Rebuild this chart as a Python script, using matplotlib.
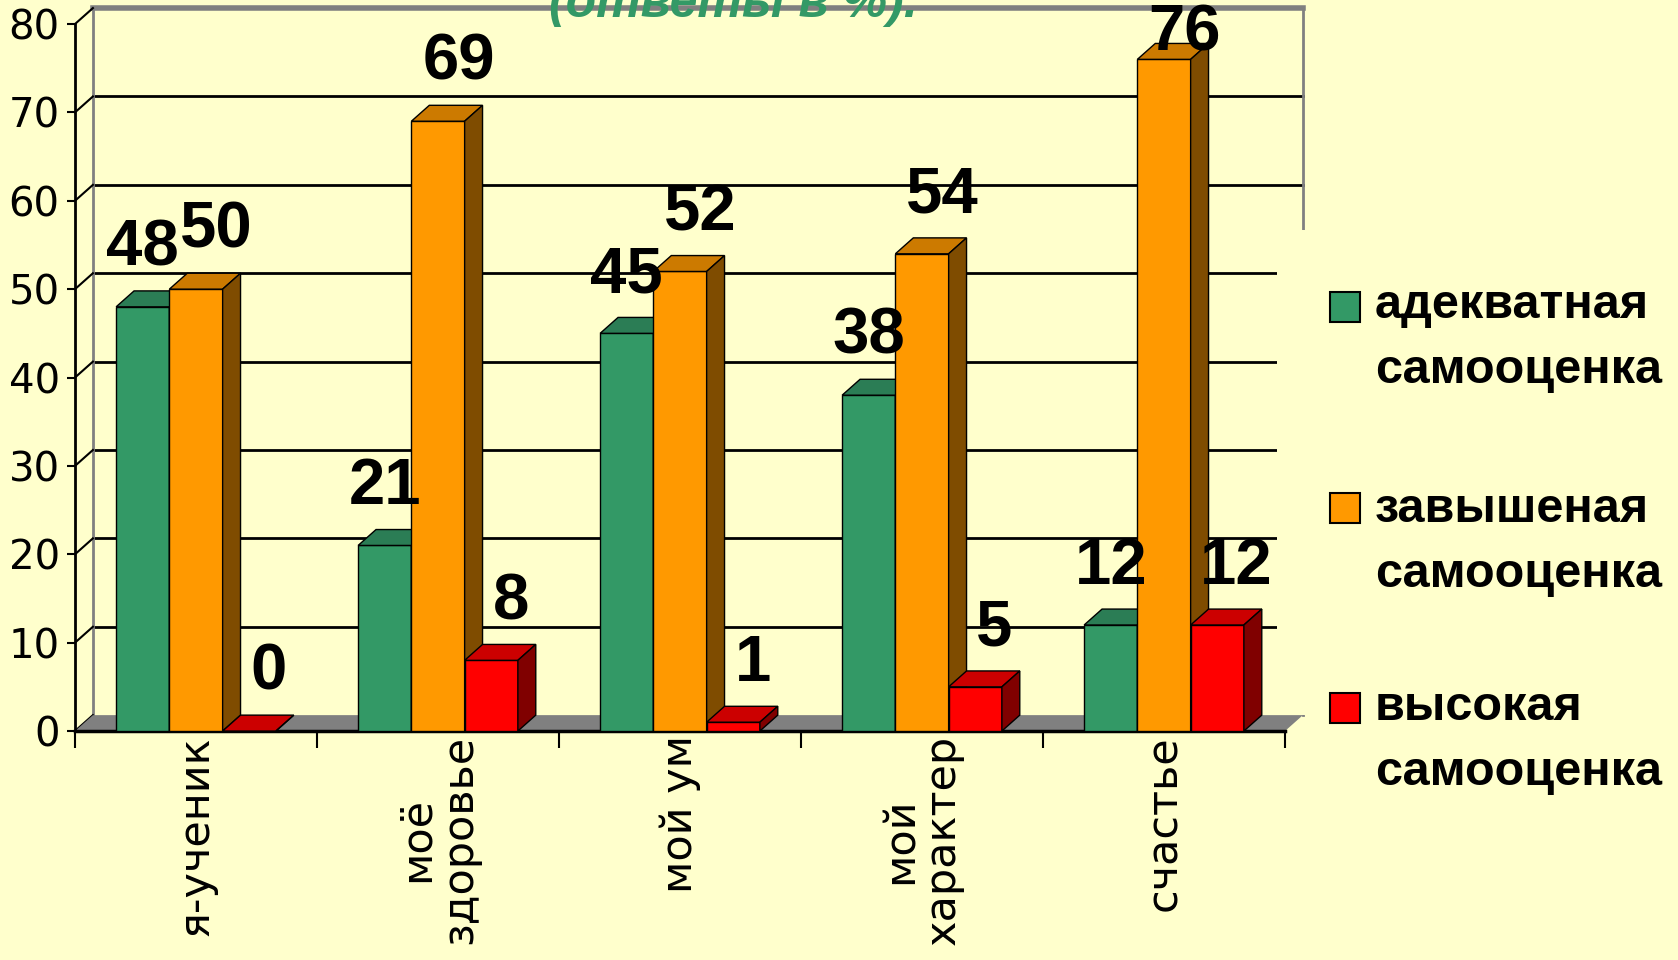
import numpy as np
import matplotlib.pyplot as plt
from matplotlib.patches import Polygon, Rectangle

categories = ['я-ученик', 'моё\nздоровье', 'мой ум', 'мой\nхарактер', 'счастье']
adequate = [48, 21, 45, 38, 12]
inflated = [50, 69, 52, 54, 76]
high = [0, 8, 1, 5, 12]
series_names = ['адекватная\nсамооценка', 'завышеная\nсамооценка', 'высокая\nсамооценка']
yticks = [0, 10, 20, 30, 40, 50, 60, 70, 80]

bg = '#FFFFCC'
# front, top, side colours of the fake 3d bars
shades = [('#339966', '#2B7D55', '#1A4D33'),
          ('#FF9900', '#CC7A00', '#7F4C00'),
          ('#FF0000', '#CC0000', '#800000')]
label_shift = [0.0, 0.085, 0.08]
dx, dy = 0.074, 1.8   # depth offset in data units
w = 0.22

fig = plt.figure(figsize=(16.78, 9.6), dpi=100, facecolor=bg)
ax = fig.add_axes([0.0447, 0.2385, 0.7211, 0.7365])
ax.set_xlim(0, 5)
ax.set_ylim(0, 80)
ax.patch.set_visible(False)

# back wall and gridlines
for v in yticks[1:-1]:
    ax.plot([dx, 5 + dx], [v + dy, v + dy], color='black', lw=2, zorder=1, clip_on=False)
ax.plot([dx, 5 + dx], [80 + dy, 80 + dy], color='#808080', lw=4, zorder=1, clip_on=False)
ax.plot([dx, dx], [dy, 80 + dy], color='#808080', lw=2, zorder=1, clip_on=False)
ax.plot([5 + dx, 5 + dx], [dy, 80 + dy], color='#808080', lw=2, zorder=1, clip_on=False)
for v in yticks:
    ax.plot([0, dx], [v, v + dy], color='black', lw=1.5, zorder=1, clip_on=False)

# legend area hides the right part of the wall
ax.add_patch(Rectangle((0.761, 0.255), 0.25, 0.505, transform=fig.transFigure,
                       fc=bg, ec='none', zorder=1.5, clip_on=False))

# floor
ax.add_patch(Polygon([(0, 0), (5, 0), (5 + dx, dy), (dx, dy)], closed=True,
                     fc='#808080', ec='none', zorder=2, clip_on=False))

x = np.arange(len(categories)) + 0.5
for k, vals in enumerate([adequate, inflated, high]):
    front, top, side = shades[k]
    xs = x + (k - 1) * w
    ax.bar(xs, vals, width=w, color=front, edgecolor='black', lw=1, zorder=3 + k)
    for xc, v in zip(xs, vals):
        x0, x1 = xc - w / 2, xc + w / 2
        ax.add_patch(Polygon([(x0, v), (x1, v), (x1 + dx, v + dy), (x0 + dx, v + dy)],
                             closed=True, fc=top, ec='black', lw=1, zorder=3 + k, clip_on=False))
        ax.add_patch(Polygon([(x1, 0), (x1, v), (x1 + dx, v + dy), (x1 + dx, dy)],
                             closed=True, fc=side, ec='black', lw=1, zorder=3 + k, clip_on=False))
        ax.text(xc + label_shift[k], min(v + dy + 1.4, 75.5), str(v), ha='center', va='bottom',
                fontsize=47, fontweight='bold',
                family=['Liberation Sans Narrow', 'Liberation Sans'], zorder=10)

# axes
for s in ['top', 'right']:
    ax.spines[s].set_visible(False)
ax.spines['left'].set_linewidth(2)
ax.spines['bottom'].set_linewidth(2.5)
ax.spines['left'].set_zorder(2.5)
ax.spines['bottom'].set_zorder(2.5)

ax.set_yticks(yticks)
ax.set_yticklabels([str(t) for t in yticks], fontsize=29, family='DejaVu Sans')
ax.tick_params(axis='y', length=6, width=1.5, direction='out', pad=5)

ax.set_xticks(range(len(categories) + 1))
ax.set_xticklabels([])
ax.tick_params(axis='x', which='major', length=12, width=1.5, direction='out')
ax.set_xticks(x, categories, minor=True)
ax.tick_params(axis='x', which='minor', length=0, pad=3)
for lbl in ax.get_xticklabels(minor=True):
    lbl.set_rotation(90)
    lbl.set_fontsize(31)
    lbl.set_family('DejaVu Sans')
    lbl.set_multialignment('center')
    lbl.set_linespacing(1.0)

# legend drawn by hand (marker aligned with first line)
leg_y = [0.680, 0.471, 0.2625]
leg_base = [0.601, 0.3885, 0.182]
for k, name in enumerate(series_names):
    fig.patches.append(Rectangle((0.7926, leg_y[k] - 0.0156), 0.0179, 0.03125,
                                 transform=fig.transFigure, fc=shades[k][0], ec='black', lw=1.5))
    fig.text(0.8194, leg_base[k], name, ha='left', va='baseline', fontsize=35,
             fontweight='bold', family='Liberation Sans', linespacing=1.58)

# title is cut off at the top of the slide
fig.text(0.437, 1 - 17 / 960, '(ответы в %).', ha='center', va='baseline', fontsize=36,
         fontweight='bold', fontstyle='italic', color='#339966', family='Liberation Sans')

fig.savefig('out.png', dpi=100, facecolor=bg)
